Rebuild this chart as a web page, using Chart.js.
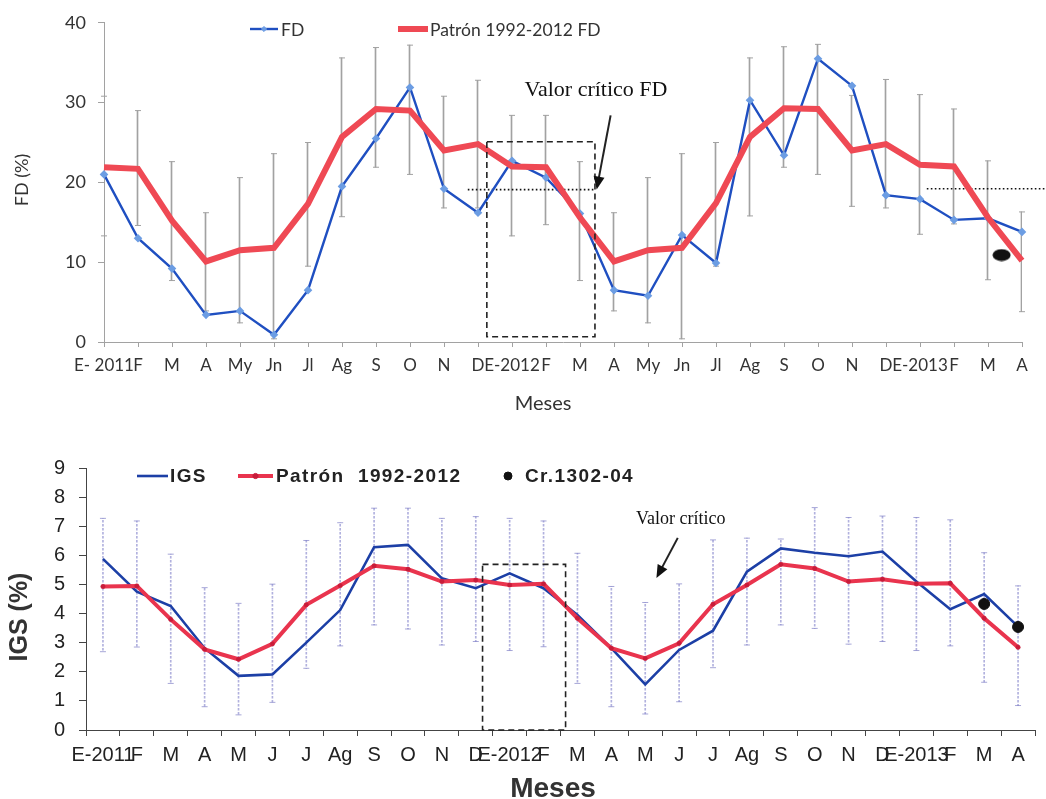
<!DOCTYPE html>
<html>
<head>
<meta charset="utf-8">
<script src="https://cdn.jsdelivr.net/npm/chart.js@4.4.0/dist/chart.umd.min.js"></script>
<style>
  body { margin: 0; background: #fff; }
  #fdBox { position: absolute; left: 0; top: 0; width: 1046px; height: 420px; }
  #igsBox { position: absolute; left: 0; top: 440px; width: 1046px; height: 359px; }
</style>
</head>
<body>
<div id="fdBox"><canvas id="fdChart"></canvas></div>
<div id="igsBox"><canvas id="igsChart"></canvas></div>
<script>
// ---- FD (%) ----
const fdLabels = ['E- 2011', 'F', 'M', 'A', 'My', 'Jn', 'Jl', 'Ag', 'S', 'O', 'N', 'D',
  'E-2012', 'F', 'M', 'A', 'My', 'Jn', 'Jl', 'Ag', 'S', 'O', 'N', 'D', 'E-2013', 'F', 'M', 'A']
const fdValues = [21.0, 13.0, 9.2, 3.4, 3.9, 0.9, 6.5, 19.5, 25.5, 31.9, 19.2, 16.2,
  22.7, 20.6, 16.1, 6.5, 5.8, 13.4, 9.9, 30.3, 23.4, 35.5, 32.1, 18.4, 17.9, 15.3, 15.5, 13.8]
const fdPattern = [21.9, 21.7, 15.2, 10.1, 11.5, 11.8, 17.3, 25.7, 29.2, 29.0, 24.0, 24.8,
  22.0, 21.9, 15.6, 10.1, 11.5, 11.8, 17.4, 25.7, 29.3, 29.2, 24.0, 24.8, 22.2, 22.0, 15.6, 10.2]
const fdHigh = [30.8, 29.0, 22.6, 16.2, 20.6, 23.6, 25.0, 35.6, 36.9, 37.2, 30.8, 32.8,
  28.4, 28.4, 22.6, 16.2, 20.6, 23.6, 25.0, 35.6, 37.0, 37.3, 30.9, 32.9, 31.0, 29.2, 22.7, 16.3]
const fdLow = [13.3, 14.6, 7.7, 3.9, 2.4, 0.4, 9.5, 15.7, 21.9, 21.0, 16.8, 16.8,
  13.3, 14.7, 7.7, 3.9, 2.4, 0.4, 9.5, 15.8, 21.9, 21.0, 17.0, 16.8, 13.5, 14.8, 7.8, 3.8]
const fdCritical1 = [{ x: 10.7, y: 19.1 }, { x: 14.4, y: 19.1 }]
const fdCritical2 = [{ x: 24.2, y: 19.2 }, { x: 27.7, y: 19.2 }]
const fdSample = [{ x: 26.4, y: 10.9 }]

// ---- IGS (%) ----
const igsLabels = ['E-2011', 'F', 'M', 'A', 'M', 'J', 'J', 'Ag', 'S', 'O', 'N', 'D',
  'E-2012', 'F', 'M', 'A', 'M', 'J', 'J', 'Ag', 'S', 'O', 'N', 'D', 'E-2013', 'F', 'M', 'A']
const igsValues = [5.88, 4.75, 4.26, 2.81, 1.86, 1.91, 3.00, 4.12, 6.28, 6.36, 5.21, 4.87,
  5.38, 4.87, 3.95, 2.81, 1.57, 2.75, 3.41, 5.44, 6.24, 6.09, 5.97, 6.13, 5.10, 4.15, 4.67, 3.55]
const igsPattern = [4.93, 4.95, 3.80, 2.77, 2.43, 2.96, 4.30, 4.96, 5.64, 5.52, 5.10, 5.15,
  4.98, 5.02, 3.84, 2.81, 2.46, 2.98, 4.32, 4.98, 5.69, 5.55, 5.10, 5.18, 5.02, 5.04, 3.84, 2.84]
const igsHigh = [7.27, 7.18, 6.04, 4.89, 4.35, 5.01, 6.51, 7.12, 7.62, 7.62, 7.27, 7.33,
  7.27, 7.18, 6.07, 4.93, 4.38, 5.02, 6.53, 6.59, 6.56, 7.64, 7.30, 7.35, 7.30, 7.22, 6.09, 4.95]
const igsLow = [2.69, 2.85, 1.60, 0.80, 0.52, 0.95, 2.12, 2.89, 3.61, 3.47, 2.92, 3.04,
  2.73, 2.86, 1.60, 0.80, 0.55, 0.97, 2.14, 2.92, 3.61, 3.49, 2.95, 3.04, 2.73, 2.89, 1.64, 0.84]
const crValues = [null, null, null, null, null, null, null, null, null, null, null, null,
  null, null, null, null, null, null, null, null, null, null, null, null, null, null, 4.33, 3.54]


// black ellipse used as a point style
function ellipseImage(w, h) {
  const c = document.createElement('canvas')
  c.width = w; c.height = h
  const g = c.getContext('2d')
  g.fillStyle = '#111'
  g.beginPath()
  g.ellipse(w / 2, h / 2, w / 2 - 0.5, h / 2 - 0.5, 0, 0, Math.PI * 2)
  g.fill()
  return c
}

// dotted fill for the thin error bars
function dottedFill(color) {
  const c = document.createElement('canvas')
  c.width = 2; c.height = 4
  const g = c.getContext('2d')
  g.fillStyle = color
  g.fillRect(0, 0, 2, 2.5)
  return g.createPattern(c, 'repeat')
}

// legend drawn inside the plot, one row
const legendRow = {
  id: 'legendRow',
  afterDraw(chart, args, opts) {
    const ctx = chart.ctx
    ctx.save()
    ctx.textBaseline = 'middle'
    ctx.font = opts.font
    if (opts.letterSpacing) ctx.letterSpacing = opts.letterSpacing
    opts.items.forEach(item => {
      const ds = chart.data.datasets[item.dataset]
      if (item.len) {
        ctx.strokeStyle = item.color
        ctx.lineWidth = item.lineWidth
        ctx.beginPath()
        ctx.moveTo(item.x, opts.y)
        ctx.lineTo(item.x + item.len, opts.y)
        ctx.stroke()
      }
      if (item.marker) {
        ctx.fillStyle = item.markerColor
        ctx.strokeStyle = item.markerColor
        ctx.lineWidth = 1
        Chart.helpers.drawPoint(ctx, { pointStyle: item.marker, radius: item.radius, borderWidth: 1 },
          item.x + (item.len || 0) / 2, opts.y)
      }
      ctx.fillStyle = opts.color
      ctx.fillText(ds.label, item.textX, opts.y + 1)
    })
    ctx.restore()
  }
}

// axis titles, placed by hand
const axisTitles = {
  id: 'axisTitles',
  afterDraw(chart, args, opts) {
    const ctx = chart.ctx
    ctx.save()
    ctx.fillStyle = opts.color
    ctx.textAlign = 'center'
    ctx.textBaseline = 'middle'
    opts.items.forEach(t => {
      ctx.save()
      ctx.font = t.font
      ctx.translate(t.x, t.y)
      if (t.vertical) ctx.rotate(-Math.PI / 2)
      ctx.fillText(t.text, 0, 0)
      ctx.restore()
    })
    ctx.restore()
  }
}

// dashed box, note and arrow placed in data units
const critNote = {
  id: 'critNote',
  afterDatasetsDraw(chart, args, opts) {
    const { ctx } = chart
    const xs = chart.scales.x2, ys = chart.scales.y
    const px = v => xs.getPixelForValue(v), py = v => ys.getPixelForValue(v)
    ctx.save()
    ctx.strokeStyle = '#222'
    ctx.fillStyle = '#111'

    ctx.lineWidth = 1.6
    ctx.setLineDash([6, 4])
    const b = opts.box
    ctx.strokeRect(px(b[0]), py(b[3]), px(b[1]) - px(b[0]), py(b[2]) - py(b[3]))
    ctx.setLineDash([])

    ctx.font = opts.font
    ctx.textAlign = 'center'
    ctx.textBaseline = 'middle'
    ctx.fillText(opts.text, px(opts.textAt[0]), py(opts.textAt[1]))

    const x1 = px(opts.arrow[0]), y1 = py(opts.arrow[1])
    const x2 = px(opts.arrow[2]), y2 = py(opts.arrow[3])
    const ang = Math.atan2(y2 - y1, x2 - x1)
    const head = 13
    ctx.lineWidth = 2
    ctx.beginPath()
    ctx.moveTo(x1, y1)
    ctx.lineTo(x2 - Math.cos(ang) * head * 0.8, y2 - Math.sin(ang) * head * 0.8)
    ctx.stroke()
    ctx.beginPath()
    ctx.moveTo(x2, y2)
    ctx.lineTo(x2 - head * Math.cos(ang) + 5.5 * Math.sin(ang), y2 - head * Math.sin(ang) - 5.5 * Math.cos(ang))
    ctx.lineTo(x2 - head * Math.cos(ang) - 5.5 * Math.sin(ang), y2 - head * Math.sin(ang) + 5.5 * Math.cos(ang))
    ctx.closePath()
    ctx.fill()
    ctx.restore()
  }
}

Chart.register(legendRow, axisTitles, critNote)


const fdGrey = '#a2a2a2'
const fdTickFont = { family: 'Lato', size: 17 }

new Chart('fdChart', {
  type: 'line',
  data: {
    labels: fdLabels,
    datasets: [
      { label: 'Patrón 1992-2012 FD', data: fdPattern, borderColor: '#ef4954', borderWidth: 6,
        pointRadius: 0, clip: false, order: 0 },
      { label: 'FD', data: fdValues, borderColor: '#1f4fc1', borderWidth: 2.4, pointStyle: 'rectRot',
        pointRadius: 2.6, pointBackgroundColor: '#6c9de3', pointBorderColor: '#6c9de3', clip: false, order: 1 },
      { type: 'bar', label: 'rango', data: fdLow.map((v, i) => [v, fdHigh[i]]), backgroundColor: fdGrey,
        barThickness: 1, order: 4 },
      { label: 'max', data: fdHigh, showLine: false, pointStyle: 'line', pointRadius: 3,
        pointBorderColor: fdGrey, pointBorderWidth: 1, clip: false, order: 4 },
      { label: 'min', data: fdLow, showLine: false, pointStyle: 'line', pointRadius: 3,
        pointBorderColor: fdGrey, pointBorderWidth: 1, clip: false, order: 4 },
      { label: 'crítico', xAxisID: 'x2', data: fdCritical1, borderColor: '#111', borderWidth: 1.6,
        borderDash: [1.6, 2.4], pointRadius: 0, clip: false, order: 2 },
      { label: 'crítico', xAxisID: 'x2', data: fdCritical2, borderColor: '#111', borderWidth: 1.6,
        borderDash: [1.6, 2.4], pointRadius: 0, clip: false, order: 2 },
      { label: 'muestra', xAxisID: 'x2', data: fdSample, showLine: false, pointStyle: ellipseImage(19, 13),
        pointRadius: 8, clip: false, order: 0 }
    ]
  },
  options: {
    responsive: true,
    maintainAspectRatio: false,
    animation: false,
    events: [],
    elements: { line: { tension: 0 } },
    layout: { padding: { top: 20, right: 24, left: 0, bottom: 0 } },
    scales: {
      x: {
        offset: false,
        grid: { offset: false, drawOnChartArea: false, tickLength: 5, color: fdGrey },
        border: { color: fdGrey, dash: [1, 1.5] },
        ticks: { autoSkip: false, maxRotation: 0, padding: 8, color: '#333', font: fdTickFont },
        afterFit: s => { s.height = 78 }
      },
      x2: { type: 'linear', display: false, min: 0, max: 27 },
      y: {
        min: 0, max: 40,
        grid: { drawOnChartArea: false, tickLength: 6, color: fdGrey },
        border: { color: fdGrey, dash: [1, 1.5] },
        ticks: { stepSize: 10, padding: 12, color: '#333', font: { family: 'Lato', size: 18 } },
        afterFit: s => { s.width = 104 }
      }
    },
    plugins: {
      legend: { display: false },
      tooltip: { enabled: false },
      legendRow: {
        y: 29, font: '17.5px Lato', color: '#333',
        items: [
          { dataset: 1, x: 250, len: 28, color: '#1f4fc1', lineWidth: 2.4, marker: 'rectRot',
            markerColor: '#6c9de3', radius: 2.6, textX: 281 },
          { dataset: 0, x: 398, len: 30, color: '#ef4954', lineWidth: 6, textX: 430 }
        ]
      },
      axisTitles: {
        color: '#333',
        items: [
          { text: 'Meses', x: 543, y: 404, font: '20px Lato' },
          { text: 'FD (%)', x: 22, y: 180, font: '18px Lato', vertical: true }
        ]
      },
      critNote: {
        box: [11.26, 14.44, 0.66, 25.1],
        text: 'Valor crítico FD', textAt: [14.47, 31.5],
        font: '22px "Liberation Serif"',
        arrow: [14.9, 28.4, 14.49, 19.1]
      }
    }
  }
})


const igsDots = dottedFill('rgba(125, 125, 200, 0.6)')
const igsCap = 'rgba(130, 130, 200, 0.7)'
const igsAxis = '#444'
const igsTickFont = { family: 'Liberation Sans', size: 20 }

new Chart('igsChart', {
  type: 'line',
  data: {
    labels: igsLabels,
    datasets: [
      { label: 'Patrón  1992-2012', data: igsPattern, borderColor: '#e9344e', borderWidth: 4,
        pointRadius: 2.2, pointBorderWidth: 0.5, pointBackgroundColor: '#c81c3a', pointBorderColor: '#c81c3a', order: 0 },
      { label: 'IGS', data: igsValues, borderColor: '#1c3fa6', borderWidth: 2.6, pointRadius: 0, order: 1 },
      { label: 'Cr.1302-04', data: crValues, showLine: false, pointRadius: 5.5,
        pointBackgroundColor: '#111', pointBorderColor: '#111', order: 0 },
      { type: 'bar', label: 'rango', data: igsLow.map((v, i) => [v, igsHigh[i]]), backgroundColor: igsDots,
        barThickness: 1, order: 4 },
      { label: 'max', data: igsHigh, showLine: false, pointStyle: 'line', pointRadius: 3,
        pointBorderColor: igsCap, pointBorderWidth: 1, order: 4 },
      { label: 'min', data: igsLow, showLine: false, pointStyle: 'line', pointRadius: 3,
        pointBorderColor: igsCap, pointBorderWidth: 1, order: 4 }
    ]
  },
  options: {
    responsive: true,
    maintainAspectRatio: false,
    animation: false,
    events: [],
    elements: { line: { tension: 0 } },
    layout: { padding: { top: 28, right: 11, left: 0, bottom: 0 } },
    scales: {
      x: {
        offset: true,
        grid: { offset: true, drawOnChartArea: false, tickLength: 6, color: igsAxis },
        border: { color: igsAxis },
        ticks: { autoSkip: false, maxRotation: 0, padding: 7, color: '#222', font: igsTickFont },
        afterFit: s => { s.height = 69 }
      },
      x2: { type: 'linear', display: false, min: -0.5, max: 27.5 },
      y: {
        min: 0, max: 9,
        grid: { drawOnChartArea: false, tickLength: 7, color: igsAxis },
        border: { color: igsAxis },
        ticks: { stepSize: 1, padding: 14, color: '#222', font: { family: 'Liberation Sans', size: 20 } },
        afterFit: s => { s.width = 86 }
      }
    },
    plugins: {
      legend: { display: false },
      tooltip: { enabled: false },
      legendRow: {
        y: 36, font: 'bold 19px "Liberation Sans"', letterSpacing: '1.4px', color: '#222',
        items: [
          { dataset: 1, x: 137, len: 31, color: '#1c3fa6', lineWidth: 2.6, textX: 170 },
          { dataset: 0, x: 238, len: 35, color: '#e9344e', lineWidth: 4, marker: 'circle',
            markerColor: '#c81c3a', radius: 2.6, textX: 276 },
          { dataset: 2, x: 508, len: 0, marker: 'circle', markerColor: '#111', radius: 4, textX: 525 }
        ]
      },
      axisTitles: {
        color: '#333',
        items: [
          { text: 'Meses', x: 553, y: 349, font: 'bold 28px "Liberation Sans"' },
          { text: 'IGS (%)', x: 20, y: 177, font: 'bold 25px "Liberation Sans"', vertical: true }
        ]
      },
      critNote: {
        box: [11.2, 13.65, 0, 5.69],
        text: 'Valor crítico', textAt: [17.05, 7.25],
        font: '18px "Liberation Serif"',
        arrow: [16.96, 6.6, 16.33, 5.22]
      }
    }
  }
})
</script>
</body>
</html>
